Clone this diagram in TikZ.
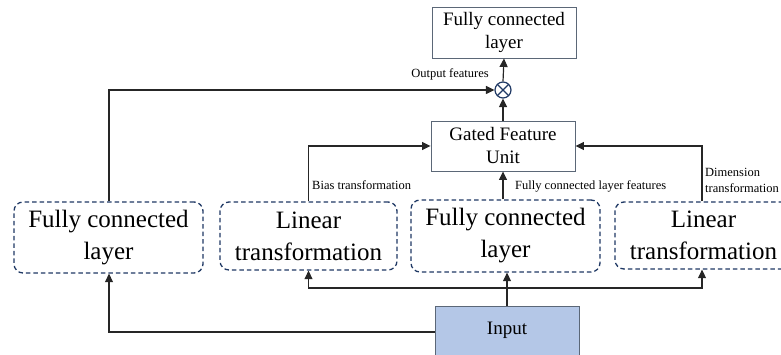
\documentclass[tikz,border=0pt]{standalone}
\usepackage{fontspec}
\setmainfont{Liberation Serif}
\usetikzlibrary{arrows.meta}
\definecolor{navy}{HTML}{1F3864}
\definecolor{slate}{HTML}{5B6777}
\definecolor{inputfill}{HTML}{B4C7E7}
\tikzset{
  solidbox/.style={draw=slate, line width=0.9pt, fill=white, align=center,
    font=\fontsize{19}{23}\selectfont, inner sep=0pt},
  dashbox/.style={draw=navy, line width=1.3pt, dash pattern=on 4.5pt off 3pt,
    rounded corners=9pt, align=center, font=\fontsize{25}{32}\selectfont, inner sep=0pt},
  link/.style={line width=1.2pt, draw=black!85},
  arr/.style={link, -{Triangle[length=8.5pt,width=8pt]}},
  small/.style={font=\fontsize{12.5}{15}\selectfont, inner sep=0pt}
}
\begin{document}
\begin{tikzpicture}[x=1pt, y=-1pt]
  \useasboundingbox (0,0) rectangle (781,355);
  \clip (0,0) rectangle (781,355);

  % output stage
  \node[solidbox, minimum width=144pt, minimum height=51pt] (top) at (504,32.5) {Fully connected\\layer};
  \node[draw=navy, line width=1.2pt, circle, minimum size=16pt, inner sep=0pt] (mul) at (503,90) {};
  \draw[navy, line width=1.2pt] ([shift={(-5.66pt,-5.66pt)}]mul.center) -- ([shift={(5.66pt,5.66pt)}]mul.center)
        ([shift={(-5.66pt,5.66pt)}]mul.center) -- ([shift={(5.66pt,-5.66pt)}]mul.center);
  \node[solidbox, minimum width=144pt, minimum height=50pt] (gfu) at (503,146) {Gated Feature\\Unit};

  % parallel branches
  \node[dashbox, minimum width=189pt, minimum height=71pt] (fc1) at (108.5,237.5) {Fully connected\\layer};
  \node[dashbox, minimum width=177pt, minimum height=68pt] (lt1) at (308.5,236) {Linear\\transformation};
  \node[dashbox, minimum width=189pt, minimum height=72pt] (fc2) at (505.5,236) {Fully connected\\layer};
  \node[dashbox, minimum width=177pt, minimum height=67pt] (lt2) at (703.5,235.5) {Linear\\transformation};

  % input
  \node[draw=slate, fill=inputfill, line width=0.9pt, minimum width=144pt, minimum height=56pt,
        inner sep=0pt, anchor=north] (in) at (507,306) {};
  \node[font=\fontsize{19}{23}\selectfont, inner sep=0pt] (inlabel) at (507,330) {Input};

  % connectors
  \draw[arr] (mul.north) -- (top.south);
  \draw[arr] (gfu.north) -- (mul.south);
  \draw[arr] (fc1.north -| 109,0) |- (mul.west);
  \draw[arr] (fc2.north -| 503,0) -- (gfu.south -| 503,0);
  \draw[arr] (lt1.north) |- (gfu.west);
  \draw[arr] (lt2.north -| 702,0) |- (gfu.east);

  \coordinate (split) at (507,288);
  \draw[link] (in.north -| split) -- (split);
  \draw[arr] (split) -- (fc2.south -| split);
  \draw[arr] (split) -| (lt1.south);
  \draw[arr] (split) -| (lt2.south -| 702,0);
  \draw[arr] (in.west |- 0,332) -| (fc1.south -| 109,0);

  % labels
  \node[small, anchor=south] (lout) at (450,80) {Output features};
  \node[small, anchor=west] (lbias) at (312,185) {Bias transformation};
  \node[small, anchor=west] (lfc) at (515,186) {Fully connected layer features};
  \node[small, anchor=west, align=left, font=\fontsize{12.5}{16}\selectfont] (ldim) at (705,180) {Dimension\\transformation};
\end{tikzpicture}
\end{document}
